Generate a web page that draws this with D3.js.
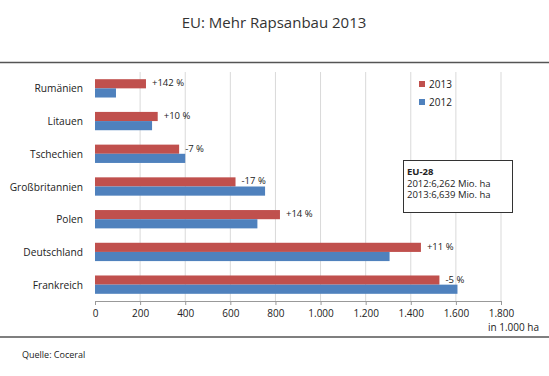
<html>
<head>
<meta charset="utf-8">
<script src="https://d3js.org/d3.v7.min.js"></script>
<style>
    body {margin: 0; background: white;}
    text {font-family: "Open Sans", sans-serif; fill: #222;}
</style>
</head>
<body>
<svg width=549 height=376></svg>
<script>
// data (in 1.000 ha)
const countries = ["Rumänien", "Litauen", "Tschechien", "Großbritannien", "Polen", "Deutschland", "Frankreich"];
const values2013 = [226, 278, 373, 623, 820, 1445, 1527];
const values2012 = [93, 253, 400, 754, 720, 1306, 1607];
const changes = ["+142 %", "+10 %", "-7 %", "-17 %", "+14 %", "+11 %", "-5 %"];
const xTicks = [0, 200, 400, 600, 800, 1000, 1200, 1400, 1600, 1800];
const seriesNames = ["2013", "2012"];
const eu28 = ["2012:6,262 Mio. ha", "2013:6,639 Mio. ha"];

const red = "#c0504d", blue = "#4f81bd";
const svg = d3.select('svg');

const xs = d3.scaleLinear().domain([0, 1800]).range([95, 501]);
const ys = d3.scaleBand().domain(countries).range([72, 301]).paddingInner(0.44).paddingOuter(0.22);
const inner = d3.scaleBand().domain(seriesNames).range([0, ys.bandwidth()]);

// title
svg.append("text")
    .attr("x", 274).attr("y", 28)
    .style("text-anchor", "middle")
    .style("font-size", "15px")
    .style("fill", "#333")
    .text("EU: Mehr Rapsanbau 2013");

// rules top and bottom
svg.append("line").attr("x1", 0).attr("x2", 549).attr("y1", 62.5).attr("y2", 62.5)
    .attr("stroke", "#555").attr("stroke-width", 1.6);
svg.append("line").attr("x1", 0).attr("x2", 549).attr("y1", 337).attr("y2", 337)
    .attr("stroke", "#555").attr("stroke-width", 1.6);

// grid lines
svg.append("g").selectAll("line")
    .data(xTicks.slice(1))
    .enter().append("line")
    .attr("x1", d => xs(d)).attr("x2", d => xs(d))
    .attr("y1", 72).attr("y2", 301)
    .attr("stroke", "#d9d9d9");

// x axis
const xAxis = svg.append("g")
    .attr("transform", "translate(0,301)")
    .call(d3.axisBottom(xs).tickValues(xTicks).tickSize(4).tickPadding(5)
        .tickFormat(d => d3.format(",")(d).replace(",", ".")));
xAxis.select(".domain").attr("stroke", "#999");
xAxis.selectAll(".tick line").attr("stroke", "#999");
xAxis.selectAll("text").style("font-size", "10px").style("font-family", "Open Sans").attr("fill", "#222");

svg.append("text")
    .attr("x", 539).attr("y", 331)
    .style("text-anchor", "end")
    .style("font-size", "10px")
    .text("in 1.000  ha");

// category labels
svg.append("g").selectAll("text")
    .data(countries)
    .enter().append("text")
    .attr("x", 83)
    .attr("y", d => ys(d) + ys.bandwidth() / 2 + 4)
    .style("text-anchor", "end")
    .style("font-size", "10.2px")
    .text(d => d);

// bars
svg.append("g").selectAll("rect")
    .data(values2013)
    .enter().append("rect")
    .attr("x", xs(0))
    .attr("y", (d, i) => ys(countries[i]) + inner("2013"))
    .attr("width", d => xs(d) - xs(0))
    .attr("height", inner.bandwidth())
    .attr("fill", red);

svg.append("g").selectAll("rect")
    .data(values2012)
    .enter().append("rect")
    .attr("x", xs(0))
    .attr("y", (d, i) => ys(countries[i]) + inner("2012"))
    .attr("width", d => xs(d) - xs(0))
    .attr("height", inner.bandwidth())
    .attr("fill", blue);

// change labels
svg.append("g").selectAll("text")
    .data(changes)
    .enter().append("text")
    .attr("x", (d, i) => xs(values2013[i]) + 6)
    .attr("y", (d, i) => ys(countries[i]) + inner.bandwidth() / 2 + 2.5)
    .style("font-size", "9.5px")
    .text(d => d);

// legend
const legend = svg.append("g").selectAll("g")
    .data(seriesNames)
    .enter().append("g")
    .attr("transform", (d, i) => "translate(419," + (81 + i * 18) + ")");
legend.append("rect").attr("width", 6).attr("height", 6)
    .attr("fill", (d, i) => i == 0 ? red : blue);
legend.append("text").attr("x", 10).attr("y", 6.5)
    .style("font-size", "10px")
    .text(d => d);

// EU-28 box
svg.append("rect")
    .attr("x", 403.5).attr("y", 160.5).attr("width", 109).attr("height", 52)
    .attr("fill", "white").attr("stroke", "#333").attr("stroke-width", 1);
svg.append("text")
    .attr("x", 407).attr("y", 175)
    .style("font-size", "9.5px").style("font-weight", "bold")
    .text("EU-28");
svg.append("g").selectAll("text")
    .data(eu28)
    .enter().append("text")
    .attr("x", 407)
    .attr("y", (d, i) => 186.5 + i * 11.5)
    .style("font-size", "9.5px")
    .text(d => d);

// source
svg.append("text")
    .attr("x", 22).attr("y", 358)
    .style("font-size", "9px")
    .text("Quelle: Coceral");
</script>
</body>
</html>
